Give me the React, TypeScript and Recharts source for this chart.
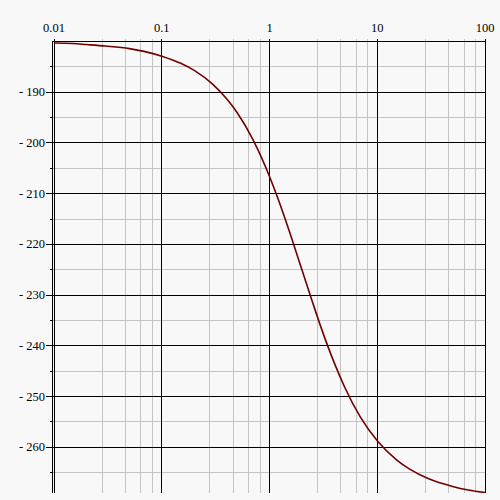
import { LineChart, Line, XAxis, YAxis, ReferenceLine } from 'recharts';

// frequency (rad/s) and phase (degrees)
const freq = [0.01, 0.015, 0.02, 0.03, 0.05, 0.07, 0.1, 0.15, 0.2, 0.3, 0.4, 0.5, 0.7, 1, 1.2, 1.5, 2, 2.5, 3, 4, 5, 7, 10, 15, 20, 30, 50, 70, 100];
const phase = [-180.3, -180.4, -180.6, -180.9, -181.4, -182.0, -182.9, -184.3, -185.7, -188.5, -191.3, -194.0, -199.3, -206.6, -211.0, -216.9, -225.0, -231.3, -236.3, -243.4, -248.2, -254.1, -258.7, -262.4, -264.3, -266.2, -267.7, -268.4, -268.9];

const xMajor = [0.01, 0.1, 1, 10, 100];
const xMinor = [0.028, 0.046, 0.064, 0.082, 0.28, 0.46, 0.64, 0.82, 2.8, 4.6, 6.4, 8.2, 28, 46, 64, 82];
const yMajor = [-190, -200, -210, -220, -230, -240, -250, -260];
const yMinor = [-185, -195, -205, -215, -225, -235, -245, -255, -265];

const data = freq.map((f, i) => ({ f, phase: phase[i] }));

const FONT = "'Liberation Serif', 'DejaVu Serif', serif";
const GRAY = '#c4c4c4';

function XTick(props: any) {
  const { x, y, payload } = props;
  const major = xMajor.includes(payload.value);
  return (
    <g>
      <line x1={x} x2={x} y1={y - 2} y2={y} stroke={major ? '#000' : GRAY} shapeRendering="crispEdges" />
      {major && (
        <text x={x} y={y - 9} textAnchor="middle" fontFamily={FONT} fontSize={12.5} fill="#000">
          {payload.value}
        </text>
      )}
    </g>
  );
}

function YTick(props: any) {
  const { x, y, payload } = props;
  const major = yMajor.includes(payload.value);
  return (
    <g>
      <line x1={major ? x - 6 : x - 2} x2={x} y1={y} y2={y} stroke="#000" shapeRendering="crispEdges" />
      {major && (
        <text x={x - 7} y={y + 4} textAnchor="end" fontFamily={FONT} fontSize={12.5} fill="#000">
          {`- ${-payload.value}`}
        </text>
      )}
    </g>
  );
}

export default function App() {
  return (
    <div style={{ position: 'absolute', left: 0, top: 0, width: 500, height: 500, background: '#f8f8f8' }}>
      <LineChart width={500} height={500} data={data} margin={{ top: 0, right: 15, left: 0, bottom: 7 }}>
        <XAxis
          dataKey="f"
          type="number"
          scale="log"
          orientation="top"
          domain={[0.00958, 100]}
          allowDataOverflow
          ticks={[...xMajor, ...xMinor]}
          interval={0}
          height={41}
          tickSize={0}
          tickMargin={0}
          tickLine={false}
          axisLine={{ stroke: '#000', shapeRendering: 'crispEdges' }}
          tick={<XTick />}
        />
        <YAxis
          type="number"
          domain={[-269, -179.9]}
          allowDataOverflow
          ticks={[...yMajor, ...yMinor]}
          interval={0}
          width={52}
          tickSize={0}
          tickMargin={0}
          tickLine={false}
          axisLine={{ stroke: '#000', shapeRendering: 'crispEdges' }}
          tick={<YTick />}
        />
        {xMinor.map((v) => (
          <ReferenceLine key={`xm${v}`} x={v} stroke={GRAY} shapeRendering="crispEdges" />
        ))}
        {yMinor.map((v) => (
          <ReferenceLine key={`ym${v}`} y={v} stroke={GRAY} shapeRendering="crispEdges" />
        ))}
        {xMajor.map((v) => (
          <ReferenceLine key={`xM${v}`} x={v} stroke="#000" shapeRendering="crispEdges" />
        ))}
        {yMajor.map((v) => (
          <ReferenceLine key={`yM${v}`} y={v} stroke="#000" shapeRendering="crispEdges" />
        ))}
        <Line
          dataKey="phase"
          type="monotone"
          stroke="#700000"
          strokeWidth={1.6}
          dot={false}
          isAnimationActive={false}
        />
      </LineChart>
    </div>
  );
}
